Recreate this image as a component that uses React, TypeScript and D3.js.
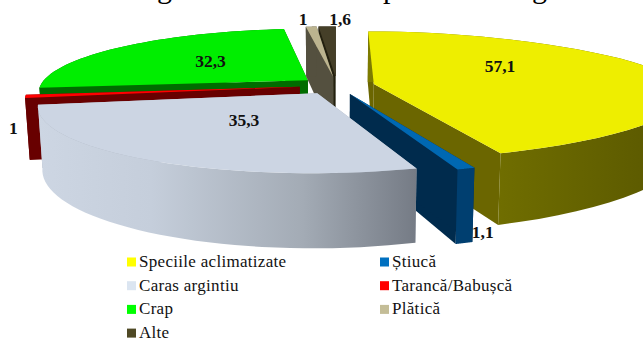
import React from "react";
import * as d3 from "d3";

const categories = ["Speciile aclimatizate", "Știucă", "Caras argintiu", "Tarancă/Babușcă", "Crap", "Plătică", "Alte"];
const values = [57.1, 1.1, 35.3, 1, 32.3, 1, 1.6];
const valueLabels = ["57,1", "1,1", "35,3", "1", "32,3", "1", "1,6"];
const topColors = ["#eeee00", "#0068b2", "#ccd5e3", "#ff0000", "#00ee00", "#bcb48f", "#453f28"];
const wallColors = ["#6b6600", "#002b4d", "#aab2bd", "#680000", "#006c00", "#54503f", "#23200f"];
const swatchColors = ["#ffff00", "#0070c0", "#dbe5f1", "#ff0000", "#00ff00", "#c4bd97", "#4f4925"];
const legendLeft = [0, 2, 4, 6];
const legendRight = [1, 3, 5];
// Draw order runs from the far side of the pie to the near side.
const paintOrder = [4, 6, 5, 3, 0, 1, 2];
// Radial position and nudge of each value label, per slice.
const labelRadius = [0.48, 1.08, 0.47, 1, 0.5, 1, 1];
const labelNudge: [number, number][] = [[-3, -11], [5, 58], [0, 0], [-12, 34], [0, 0], [-8, -5.5], [13, -5]];
const titleLetters = [{ t: "g", x: 157 }, { t: "p", x: 383 }, { t: "g", x: 532 }];

// Pie geometry and camera: unit-radius world coordinates mapped to the screen.
const CX = 337, CY = 85.5, R = 268, TILT = 62.5, PERSP = 0.18, DEPTH = 60, CONVERGE = 0.985, EXPLODE = 0.14;
// The camera sits left of centre, so the right-hand side of the pie spreads out.
const RIGHT_SPREAD = 0.1;

const pieAngles = d3.pie<number>().sort(null).value((d) => d)(values);

function project(x: number, y: number, low: boolean): [number, number] {
  const s = 1 / (1 - PERSP * y);
  const spread = x > 0 ? 1 + RIGHT_SPREAD * x * x : 1;
  const sx = x * R * s * spread * (low ? CONVERGE : 1);
  const sy = y * TILT * s + (low ? DEPTH * s : 0);
  return [CX + sx, CY + sy];
}

// World y grows toward the viewer, so 12 o'clock sits at y = -r.
function world(a: number, r: number, mid: number): [number, number] {
  return [
    EXPLODE * Math.sin(mid) + r * Math.sin(a),
    -EXPLODE * Math.cos(mid) - r * Math.cos(a),
  ];
}

const path = d3.line<[number, number]>();

function sliceShapes(i: number) {
  const { startAngle: a0, endAngle: a1 } = pieAngles[i];
  const mid = (a0 + a1) / 2;
  const steps = d3.range(0, 41).map((k) => a0 + ((a1 - a0) * k) / 40);
  const pt = (a: number, r: number, low: boolean) => {
    const [x, y] = world(a, r, mid);
    return project(x, y, low);
  };
  const top = [pt(a0, 0, false), ...steps.map((a) => pt(a, 1, false))];
  const side = [...steps.map((a) => pt(a, 1, false)), ...steps.slice().reverse().map((a) => pt(a, 1, true))];
  const wall = (a: number) => [pt(a, 0, false), pt(a, 1, false), pt(a, 1, true), pt(a, 0, true)];
  const label = pt(mid, labelRadius[i], false);
  return { top, side, wallA: wall(a0), wallB: wall(a1), label };
}

const LegendRow = ({ i, x, row }: { i: number; x: number; row: number }) => {
  const y = 262 + row * 23.7;
  return (
    <g>
      <rect x={x} y={y - 4.5} width={9} height={9} fill={swatchColors[i]} />
      <text x={x + 12} y={y + 5} fontSize={17} letterSpacing={0.3} fill="#111">{categories[i]}</text>
    </g>
  );
};

export default function App() {
  return (
    <svg
      width={643}
      height={340}
      viewBox="0 0 643 340"
      style={{ position: "fixed", left: 0, top: 0, background: "#fff" }}
      fontFamily="'Liberation Serif', serif"
    >
      <defs>
        <linearGradient id="side-0" x1="0" x2="1" y1="0" y2="0">
          <stop offset="0" stopColor="#7d7b00" />
          <stop offset="0.4" stopColor="#706e00" />
          <stop offset="1" stopColor="#585600" />
        </linearGradient>
        <linearGradient id="side-2" x1="0" x2="1" y1="0" y2="0">
          <stop offset="0" stopColor="#cdd6e3" />
          <stop offset="0.3" stopColor="#c5cedb" />
          <stop offset="0.7" stopColor="#a3abb5" />
          <stop offset="1" stopColor="#757b85" />
        </linearGradient>
      </defs>
      {titleLetters.map((l, i) => (
        <text key={i} x={l.x} y={-2} fontSize={30} fill="#000">{l.t}</text>
      ))}
      {paintOrder.map((i) => {
        const s = sliceShapes(i);
        const sideFill = i === 0 || i === 2 ? `url(#side-${i})` : i === 1 ? "#003f70" : wallColors[i];
        return (
          <g key={i}>
            <path d={path(s.wallB)! + "Z"} fill={wallColors[i]} />
            <path d={path(s.wallA)! + "Z"} fill={wallColors[i]} />
            <path d={path(s.side)! + "Z"} fill={sideFill} />
            <path d={path(s.top)! + "Z"} fill={topColors[i]} />
          </g>
        );
      })}
      {values.map((_, i) => {
        const s = sliceShapes(i);
        return (
          <text
            key={i}
            x={s.label[0] + labelNudge[i][0]}
            y={s.label[1] + labelNudge[i][1]}
            fontSize={17.5}
            fontWeight="bold"
            textAnchor="middle"
            dominantBaseline="middle"
            fill="#111"
          >
            {valueLabels[i]}
          </text>
        );
      })}
      {legendLeft.map((i, r) => <LegendRow key={i} i={i} x={127} row={r} />)}
      {legendRight.map((i, r) => <LegendRow key={i} i={i} x={380} row={r} />)}
    </svg>
  );
}
